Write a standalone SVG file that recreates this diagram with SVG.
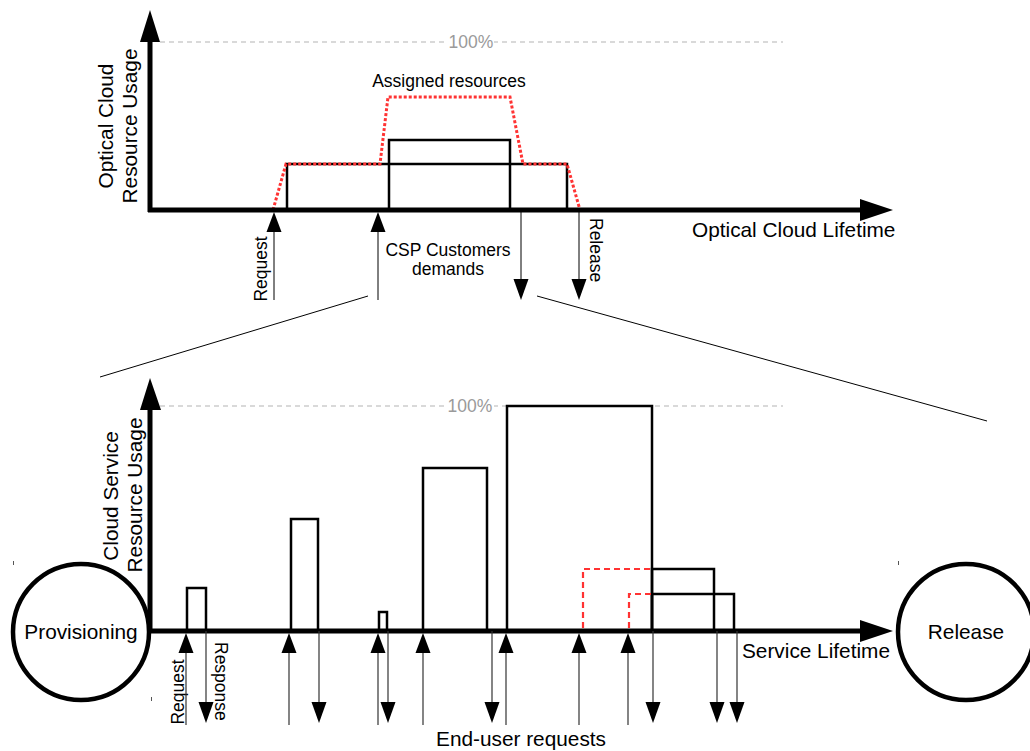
<svg xmlns="http://www.w3.org/2000/svg" xmlns:xlink="http://www.w3.org/1999/xlink" width="1030" height="751" viewBox="0 0 1030 751">
<style>
text{font-family:"Liberation Sans",Arial,sans-serif;fill:#000}
.t20{font-size:20.8px}
.t17{font-size:17.5px}
.pct{font-size:17.5px;fill:#9a9a9a}
.axis{stroke:#000;stroke-width:5;fill:none}
.bar{stroke:#000;stroke-width:2.5;fill:none}
.grid{stroke:#d9d9d9;stroke-width:2;stroke-dasharray:5 4;fill:none}
.dot{stroke:#ff3333;stroke-width:3;stroke-dasharray:3 2;fill:none}
.dash{stroke:#ff3333;stroke-width:2.2;stroke-dasharray:6 4;fill:none}
.thin{stroke:#000;stroke-width:1;fill:none}
.ev{stroke:#333;stroke-width:1.2;fill:none}
.circ{stroke:#000;stroke-width:4.5;fill:#fff}
.tick{stroke:#555;stroke-width:1}
</style>
<defs>
<polygon id="up" points="0,0 -7.5,20 7.5,20" fill="#000"/>
<polygon id="down" points="0,0 -7.5,-21 7.5,-21" fill="#000"/>
</defs>
<rect width="1030" height="751" fill="#fff"/>

<!-- ===== Top chart ===== -->
<g id="top-chart">
  <line class="grid" x1="160" y1="42" x2="783" y2="42"/>
  <rect x="448" y="34" width="46" height="16" fill="#fff"/>
  <text class="pct" x="471" y="48" text-anchor="middle">100%</text>
  <g id="top-demands">
    <rect class="bar" x="287" y="164" width="280" height="46"/>
    <rect class="bar" x="389" y="140" width="121" height="70"/>
  </g>
  <path id="top-assigned" class="dot" d="M273,210 L286,164 L380,164 L388,97 L510,97 L523,164 L567,164 L580,210"/>
  <text class="t17" x="449" y="87" text-anchor="middle">Assigned resources</text>
  <g id="top-axes">
    <line class="axis" x1="150" y1="212" x2="150" y2="38"/>
    <polygon points="150,10 140,42 160,42" fill="#000"/>
    <line class="axis" x1="148" y1="210" x2="862" y2="210"/>
    <polygon points="893,210 860,199 860,221" fill="#000"/>
  </g>
  <text class="t20" transform="translate(113,126) rotate(-90)" text-anchor="middle">Optical Cloud</text>
  <text class="t20" transform="translate(137,126) rotate(-90)" text-anchor="middle">Resource Usage</text>
  <text class="t20" x="692" y="237">Optical Cloud Lifetime</text>
  <text class="t17" transform="translate(267,269) rotate(-90)" text-anchor="middle">Request</text>
  <text class="t17" transform="translate(590,218) rotate(90)">Release</text>
  <text class="t17" x="448" y="256" text-anchor="middle">CSP Customers</text>
  <text class="t17" x="448" y="275" text-anchor="middle">demands</text>
</g>

<!-- ===== Bottom chart ===== -->
<g id="bottom-chart">
  <line class="grid" x1="160" y1="406" x2="783" y2="406"/>
  <rect x="448" y="398" width="46" height="16" fill="#fff"/>
  <text class="pct" x="470" y="412" text-anchor="middle">100%</text>
  <g id="bars">
    <rect class="bar" x="187" y="588" width="19" height="43"/>
    <rect class="bar" x="291" y="519" width="27" height="112"/>
    <rect class="bar" x="379" y="612" width="8" height="19"/>
    <rect class="bar" x="423" y="468" width="64" height="163"/>
    <rect class="bar" x="507" y="406" width="145" height="225"/>
    <rect class="bar" x="652" y="569" width="62" height="62"/>
    <rect class="bar" x="652" y="594" width="82" height="37"/>
  </g>
  <path class="dash" d="M583,628 V569 H652"/>
  <path class="dash" d="M629,628 V594 H652"/>
  <g id="bottom-axes">
    <line class="axis" x1="150" y1="633" x2="150" y2="405"/>
    <polygon points="150,378 140,410 161,410" fill="#000"/>
    <line class="axis" x1="150" y1="631" x2="862" y2="631"/>
    <polygon points="893,631 860,620 860,642" fill="#000"/>
  </g>
  <text class="t20" transform="translate(118,496) rotate(-90)" text-anchor="middle">Cloud Service</text>
  <text class="t20" transform="translate(142,495) rotate(-90)" text-anchor="middle">Resource Usage</text>
  <text class="t20" x="742" y="658">Service Lifetime</text>
  <text class="t17" transform="translate(184,692) rotate(-90)" text-anchor="middle">Request</text>
  <text class="t17" transform="translate(215,642) rotate(90)">Response</text>
  <text class="t20" x="521" y="746" text-anchor="middle">End-user requests</text>
</g>

<g id="provisioning">
  <circle class="circ" cx="81" cy="632" r="68"/>
  <text class="t20" x="81" y="639" text-anchor="middle">Provisioning</text>
</g>
<g id="release">
  <circle class="circ" cx="966" cy="632" r="68"/>
  <text class="t20" x="966" y="639" text-anchor="middle">Release</text>
</g>

<g id="connectors">
  <!-- top chart events -->
  <line class="thin" x1="274" y1="228" x2="274" y2="300"/>
  <use xlink:href="#up" href="#up" x="274" y="212"/>
  <line class="thin" x1="378" y1="228" x2="378" y2="300"/>
  <use xlink:href="#up" href="#up" x="378" y="212"/>
  <line class="thin" x1="521" y1="212" x2="521" y2="281"/>
  <use xlink:href="#down" href="#down" x="521" y="300"/>
  <line class="thin" x1="579" y1="212" x2="579" y2="281"/>
  <use xlink:href="#down" href="#down" x="579" y="300"/>
  <!-- zoom lines -->
  <line class="thin" x1="100" y1="377" x2="368" y2="296"/>
  <line class="thin" x1="537" y1="296" x2="987" y2="421"/>
  <!-- bottom chart events: up -->
  <line class="ev" x1="186" y1="650" x2="186" y2="725"/><use xlink:href="#up" href="#up" x="186" y="633"/>
  <line class="ev" x1="289" y1="650" x2="289" y2="725"/><use xlink:href="#up" href="#up" x="289" y="633"/>
  <line class="ev" x1="378" y1="650" x2="378" y2="725"/><use xlink:href="#up" href="#up" x="378" y="633"/>
  <line class="ev" x1="423" y1="650" x2="423" y2="725"/><use xlink:href="#up" href="#up" x="423" y="633"/>
  <line class="ev" x1="506" y1="650" x2="506" y2="725"/><use xlink:href="#up" href="#up" x="506" y="633"/>
  <line class="ev" x1="579" y1="650" x2="579" y2="725"/><use xlink:href="#up" href="#up" x="579" y="633"/>
  <line class="ev" x1="628" y1="650" x2="628" y2="725"/><use xlink:href="#up" href="#up" x="628" y="633"/>
  <!-- bottom chart events: down -->
  <line class="ev" x1="206" y1="631" x2="206" y2="705"/><use xlink:href="#down" href="#down" x="206" y="723"/>
  <line class="ev" x1="319" y1="631" x2="319" y2="705"/><use xlink:href="#down" href="#down" x="319" y="723"/>
  <line class="ev" x1="388" y1="631" x2="388" y2="705"/><use xlink:href="#down" href="#down" x="388" y="723"/>
  <line class="ev" x1="492" y1="631" x2="492" y2="705"/><use xlink:href="#down" href="#down" x="492" y="723"/>
  <line class="ev" x1="653" y1="631" x2="653" y2="705"/><use xlink:href="#down" href="#down" x="653" y="723"/>
  <line class="ev" x1="717" y1="631" x2="717" y2="705"/><use xlink:href="#down" href="#down" x="717" y="723"/>
  <line class="ev" x1="737" y1="631" x2="737" y2="705"/><use xlink:href="#down" href="#down" x="737" y="723"/>
</g>

<g id="ticks">
  <line class="tick" x1="13.5" y1="561" x2="13.5" y2="565"/>
  <line class="tick" x1="151.5" y1="697" x2="151.5" y2="701"/>
  <line class="tick" x1="898.5" y1="561" x2="898.5" y2="565"/>
</g>
</svg>
